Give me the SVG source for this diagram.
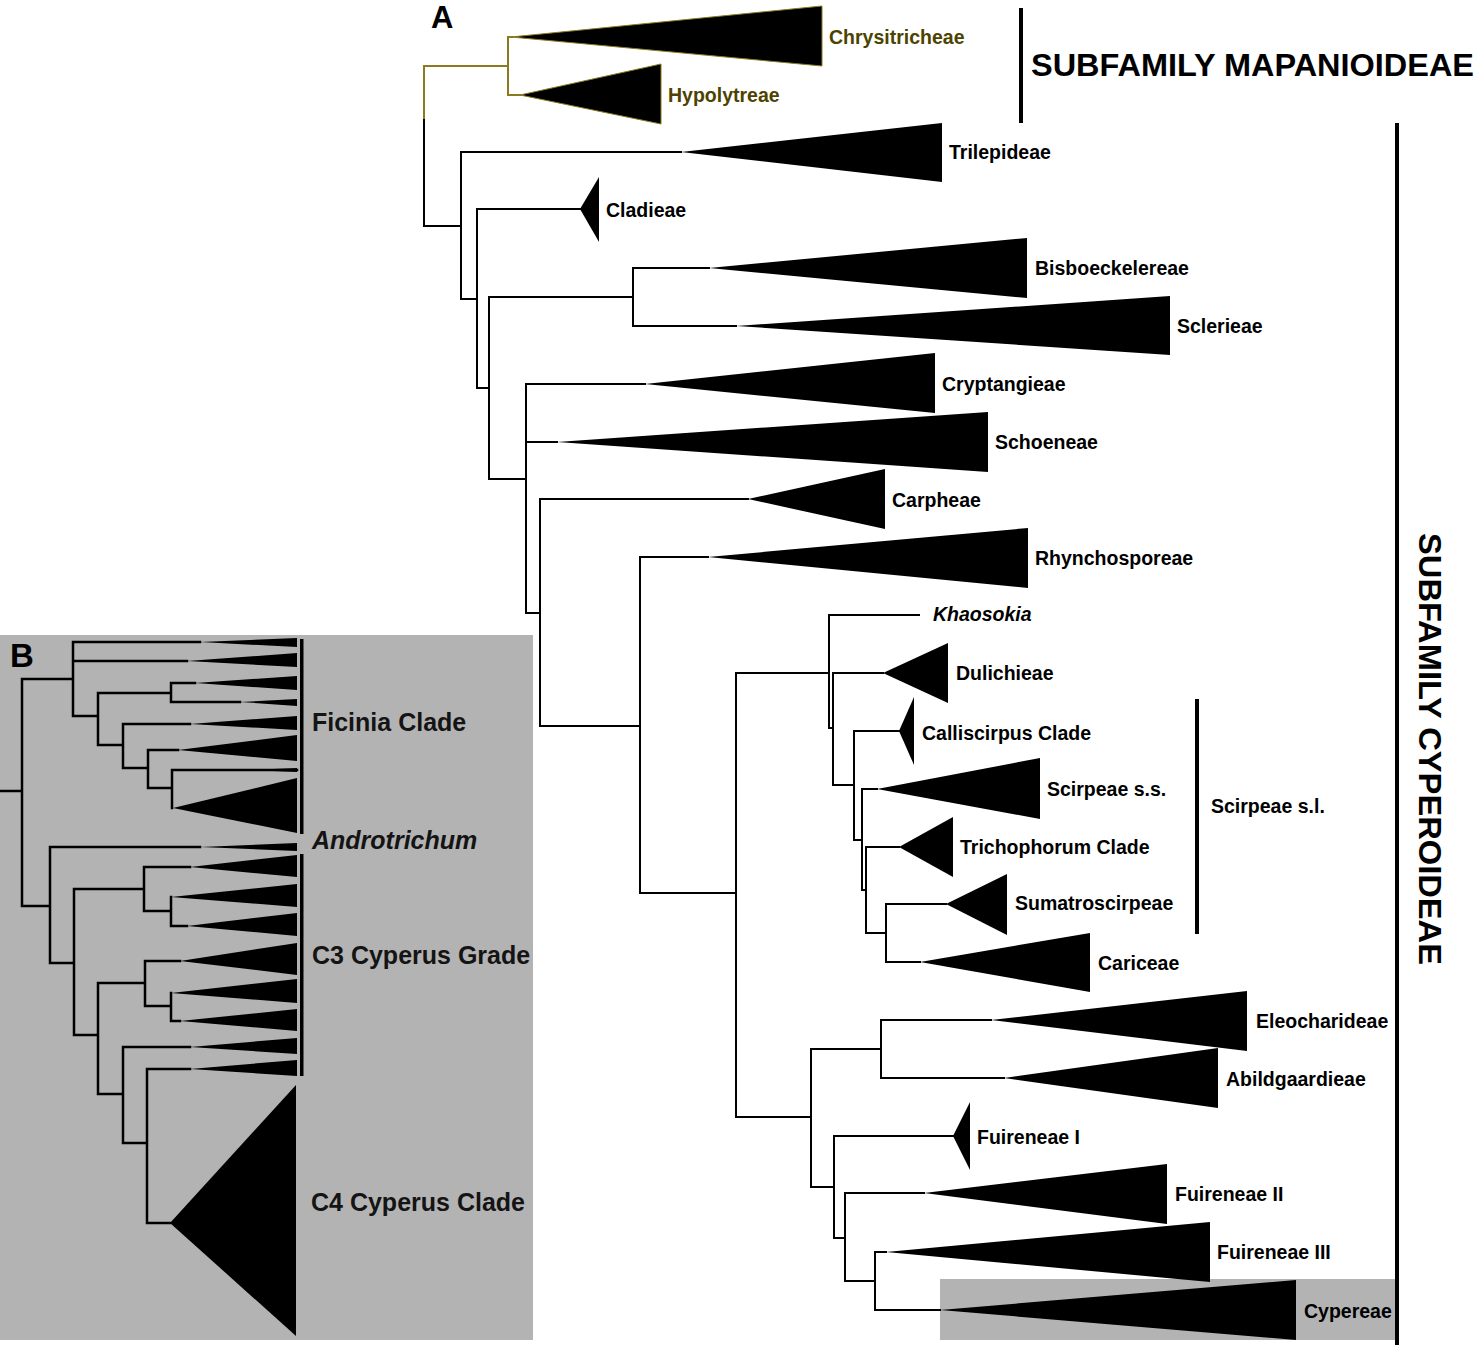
<svg xmlns="http://www.w3.org/2000/svg" width="1476" height="1345" viewBox="0 0 1476 1345">
<style>
text{font-family:"Liberation Sans",Arial,sans-serif;font-weight:bold;fill:#000}
.lab{font-size:19.5px}
.bl{font-size:25px;fill:#141414}
.big{font-size:31px}
.ol{fill:#4d4300}
.br{fill:none;stroke:#000;stroke-width:2;stroke-linecap:square}
.brb{fill:none;stroke:#000;stroke-width:2.5;stroke-linecap:square}
.bro{fill:none;stroke:#8a7a20;stroke-width:2;stroke-linecap:square}
.tri{fill:#000}
.trio{fill:#000;stroke:#8a7a20;stroke-width:1}
.bar{fill:#000}
</style>
<rect width="1476" height="1345" fill="#fff"/>
<!-- Panel B background -->
<rect id="panelB-bg" x="0" y="635" width="533" height="705" fill="#b3b3b3"/>
<rect id="cypereae-bg" x="940" y="1279" width="455" height="61" fill="#b3b3b3"/>

<g id="connectors">
<path class="bro" d="M424,120 V66 H508 M508,37 V95 M508,37 H512 M508,95 H520"/>
<path class="br" d="M424,120 V226 H461 M461,152 V299 M461,152 H681 M461,299 H477 M477,209 V388 M477,209 H580 M477,388 H489 M489,297 V479 M489,297 H633 M633,268 V326 M633,268 H709 M633,326 H736 M489,479 H526 M526,384 V613 M526,384 H645 M526,442 H557 M526,613 H540 M540,499 V726 M540,499 H748 M540,726 H640 M640,557 V893 M640,557 H708 M640,893 H736 M736,673 V1117 M736,673 H829 M829,615 V728 M829,615 H919 M829,728 H833 M833,673 V785 M833,673 H883 M833,785 H854 M854,731 V840 M854,731 H899 M854,840 H862 M862,789 V890 M862,789 H877 M862,890 H866 M866,847 V933 M866,847 H899 M866,933 H886 M886,904 V962 M886,904 H946 M886,962 H920 M736,1117 H811 M811,1049 V1187 M811,1049 H881 M881,1020 V1078 M881,1020 H991 M881,1078 H1004 M811,1187 H834 M834,1136 V1238 M834,1136 H953 M834,1238 H845 M845,1193 V1281 M845,1193 H924 M845,1281 H875 M875,1252 V1310 M875,1252 H886 M875,1310 H940"/>
<path class="brb" d="M0,791 H22 M22,679 V906 M22,679 H73 M73,642 V716 M73,642 H200 M73,661 H187 M73,716 H98 M98,693 V745 M98,693 H171 M171,683 V702 M171,683 H195 M171,702 H240 M98,745 H123 M123,724 V768 M123,724 H190 M123,768 H148 M148,750 V788 M148,750 H178 M148,788 H172 M172,770 V808 M172,770 H297 M22,906 H50 M50,847 V963 M50,847 H200 M50,963 H74 M74,889 V1035 M74,889 H144 M144,867 V911 M144,867 H190 M144,911 H171 M171,897 V926 M171,926 H187 M74,1035 H98 M98,983 V1094 M98,983 H145 M145,961 V1006 M145,961 H180 M145,1006 H171 M171,993 V1021 M171,1021 H180 M98,1094 H123 M123,1047 V1143 M123,1047 H190 M123,1143 H147 M147,1069 V1223 M147,1069 H190 M147,1223 H170"/>
</g>

<!-- Panel A labels -->
<g id="label-A"><text class="big" x="431" y="28">A</text></g>
<g id="mapanioideae"><rect class="bar" x="1019" y="8" width="4" height="115"/><text class="big" x="1031" y="76" textLength="443" lengthAdjust="spacingAndGlyphs">SUBFAMILY MAPANIOIDEAE</text></g>
<g id="cyperoideae"><rect class="bar" x="1395" y="123" width="4" height="1222"/><text class="big" x="-216" y="0" textLength="432" lengthAdjust="spacingAndGlyphs" transform="translate(1419,749) rotate(90)">SUBFAMILY CYPEROIDEAE</text></g>
<g id="scirpeae-sl"><rect class="bar" x="1195" y="699" width="4" height="235"/><text class="lab" x="1211" y="813">Scirpeae s.l.</text></g>

<g id="chrysitricheae"><polygon class="trio" points="511,37 822,6 822,66"/><text class="lab ol" x="829" y="44">Chrysitricheae</text></g>
<g id="hypolytreae"><polygon class="trio" points="520,95 661,64 661,124"/><text class="lab ol" x="668" y="102">Hypolytreae</text></g>
<g id="trilepideae"><polygon class="tri" points="681,152 942,123 942,182"/><text class="lab" x="949" y="159">Trilepideae</text></g>
<g id="cladieae"><polygon class="tri" points="580,209 599,177 599,242"/><text class="lab" x="606" y="217">Cladieae</text></g>
<g id="bisboeckelereae"><polygon class="tri" points="709,268 1027,238 1027,298"/><text class="lab" x="1035" y="275">Bisboeckelereae</text></g>
<g id="sclerieae"><polygon class="tri" points="736,326 1170,296 1170,355"/><text class="lab" x="1177" y="333">Sclerieae</text></g>
<g id="cryptangieae"><polygon class="tri" points="645,384 935,353 935,413"/><text class="lab" x="942" y="391">Cryptangieae</text></g>
<g id="schoeneae"><polygon class="tri" points="557,442 988,412 988,472"/><text class="lab" x="995" y="449">Schoeneae</text></g>
<g id="carpheae"><polygon class="tri" points="748,499 885,469 885,529"/><text class="lab" x="892" y="507">Carpheae</text></g>
<g id="rhynchosporeae"><polygon class="tri" points="708,557 1028,528 1028,588"/><text class="lab" x="1035" y="565">Rhynchosporeae</text></g>
<g id="khaosokia"><text class="lab" x="933" y="621" font-style="italic">Khaosokia</text></g>
<g id="dulichieae"><polygon class="tri" points="883,673 948,643 948,703"/><text class="lab" x="956" y="680">Dulichieae</text></g>
<g id="calliscirpus"><polygon class="tri" points="899,731 914,697 914,765"/><text class="lab" x="922" y="740">Calliscirpus Clade</text></g>
<g id="scirpeae-ss"><polygon class="tri" points="877,789 1040,758 1040,819"/><text class="lab" x="1047" y="796">Scirpeae s.s.</text></g>
<g id="trichophorum"><polygon class="tri" points="899,847 953,817 953,877"/><text class="lab" x="960" y="854">Trichophorum Clade</text></g>
<g id="sumatroscirpeae"><polygon class="tri" points="946,904 1007,874 1007,935"/><text class="lab" x="1015" y="910">Sumatroscirpeae</text></g>
<g id="cariceae"><polygon class="tri" points="920,962 1090,933 1090,992"/><text class="lab" x="1098" y="970">Cariceae</text></g>
<g id="eleocharideae"><polygon class="tri" points="991,1020 1247,991 1247,1051"/><text class="lab" x="1256" y="1028">Eleocharideae</text></g>
<g id="abildgaardieae"><polygon class="tri" points="1004,1078 1218,1048 1218,1108"/><text class="lab" x="1226" y="1086">Abildgaardieae</text></g>
<g id="fuireneae1"><polygon class="tri" points="953,1136 970,1102 970,1170"/><text class="lab" x="977" y="1144">Fuireneae I</text></g>
<g id="fuireneae2"><polygon class="tri" points="924,1193 1167,1164 1167,1224"/><text class="lab" x="1175" y="1201">Fuireneae II</text></g>
<g id="fuireneae3"><polygon class="tri" points="886,1252 1210,1222 1210,1282"/><text class="lab" x="1217" y="1259">Fuireneae III</text></g>
<g id="cypereae"><polygon class="tri" points="940,1310 1296,1280 1296,1340"/><text class="lab" x="1304" y="1318">Cypereae</text></g>

<!-- Panel B -->
<g id="label-B"><text x="10" y="667" style="font-size:33px">B</text></g>
<g id="ficinia-clade">
<polygon class="tri" points="200,642 297,638 297,647"/>
<polygon class="tri" points="187,661 297,653 297,667"/>
<polygon class="tri" points="195,683 297,676 297,690"/>
<polygon class="tri" points="240,702 297,699 297,706"/>
<polygon class="tri" points="190,724 297,716 297,730"/>
<polygon class="tri" points="178,750 297,735 297,761"/>
<polygon class="tri" points="250,770 297,768 297,772"/>
<polygon class="tri" points="173,808 297,778 297,833"/>
<rect class="bar" x="300" y="639" width="3.5" height="195"/>
<text class="bl" x="312" y="731">Ficinia Clade</text>
</g>
<g id="androtrichum"><polygon class="tri" points="200,847 297,843 297,851"/><text class="bl" x="312" y="849" font-style="italic">Androtrichum</text></g>
<g id="c3-cyperus-grade">
<polygon class="tri" points="190,867 297,855 297,877"/>
<polygon class="tri" points="171,897 297,884 297,907"/>
<polygon class="tri" points="187,926 297,913 297,936"/>
<polygon class="tri" points="180,961 297,943 297,975"/>
<polygon class="tri" points="171,993 297,979 297,1003"/>
<polygon class="tri" points="180,1021 297,1009 297,1031"/>
<polygon class="tri" points="190,1047 297,1038 297,1054"/>
<polygon class="tri" points="190,1069 297,1060 297,1076"/>
<rect class="bar" x="300" y="854" width="3.5" height="222"/>
<text class="bl" x="312" y="964">C3 Cyperus Grade</text>
</g>
<g id="c4-cyperus-clade"><polygon class="tri" points="170,1223 296,1085 296,1336"/><text class="bl" x="311" y="1211">C4 Cyperus Clade</text></g>
</svg>
